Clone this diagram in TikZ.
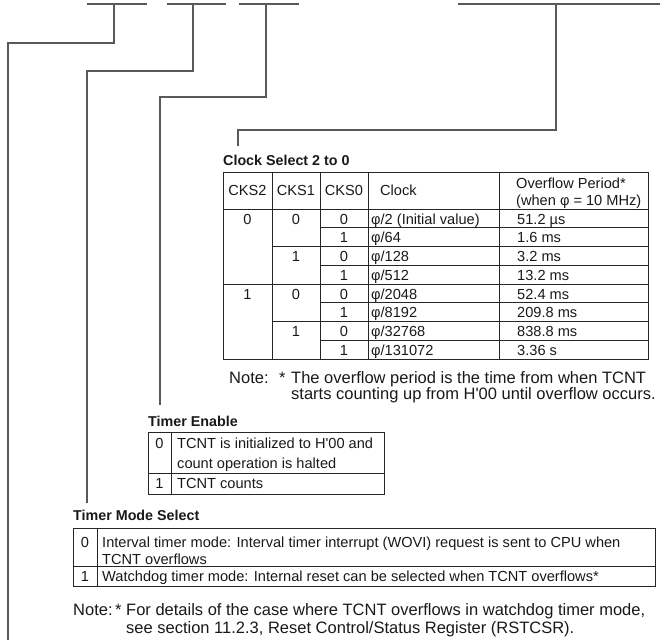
\documentclass[tikz,border=0pt]{standalone}
\usepackage{fontspec}
\setmainfont{Liberation Sans}
\usetikzlibrary{positioning}
\newcommand\tblfont{\fontsize{14.6}{17}\selectfont}
\newcommand\notefont{\fontsize{16.5}{18}\selectfont}
\newcommand\qt{\textquotesingle}
\tikzset{
  lead/.style={line width=1.1pt, draw=black!65},
  grid/.style={line width=0.8pt, draw=black!85},
  ttl/.style={font=\fontsize{14.3}{17}\selectfont\bfseries, anchor=base west, inner sep=0pt, text=black!90},
  txt/.style={font=\tblfont, anchor=base west, inner sep=0pt, text=black!90},
  num/.style={font=\tblfont, anchor=base, inner sep=0pt, text=black!90},
  nte/.style={font=\notefont, anchor=base west, inner sep=0pt, text=black!90},
}

\begin{document}
\begin{tikzpicture}[x=1pt,y=-1pt]
  \useasboundingbox (0,0) rectangle (671,640);
  % bit fields and their stems
  \coordinate (b1) at (114,4);
  \coordinate (b2) at (193,4);
  \coordinate (b3) at (266,4);
  \coordinate (b4) at (556,4);
  \draw[lead] (87,4) -- (147,4);
  \draw[lead] (167,4) -- (226,4);
  \draw[lead] (239,4) -- (299,4);
  \draw[lead] (458,4) -- (660,4);
  % leader ends
  \coordinate (k1) at (8,43);   \coordinate (wtend) at (8,640);
  \coordinate (k2) at (87,71);  \coordinate (tmend) at (87,503);
  \coordinate (k3) at (160,97); \coordinate (teend) at (160,405);
  \coordinate (k4) at (238,130);\coordinate (csend) at (238,146);
  \draw[lead] (b1) |- (k1) -- (wtend);
  \draw[lead] (b2) |- (k2) -- (tmend);
  \draw[lead] (b3) |- (k3) -- (teend);
  \draw[lead] (b4) |- (k4) -- (csend);

  % clock select table
  \node[ttl] (cs) at (223,165) {Clock Select 2 to 0};
  \draw[grid] (223,172) rectangle (648,359);
  \draw[grid] (223,209) -- (648,209);
  \draw[grid] (272,172) -- (272,359);
  \draw[grid] (320,172) -- (320,359);
  \draw[grid] (368,172) -- (368,359);
  \draw[grid] (499,172) -- (499,359);
  \draw[grid] (320,227.75) -- (648,227.75);
  \draw[grid] (272,246.5) -- (648,246.5);
  \draw[grid] (320,265.25) -- (648,265.25);
  \draw[grid] (223,284) -- (648,284);
  \draw[grid] (320,302.75) -- (648,302.75);
  \draw[grid] (272,321.5) -- (648,321.5);
  \draw[grid] (320,340.25) -- (648,340.25);
  \node[num] (h2) at (247.5,195.5) {CKS2};
  \node[num] (h1) at (296,195.5) {CKS1};
  \node[num] (h0) at (344,195.5) {CKS0};
  \node[txt] (hc) at (380,195.5) {Clock};
  \node[txt] (hp) at (516,188) {Overflow Period*};
  \node[txt] (hw) at (516,205) {(when φ = 10 MHz)};
  \node[num] at (247.5,224) {0};
  \node[num] at (247.5,299) {1};
  \node[num] at (296,224) {0};
  \node[num] at (296,261.5) {1};
  \node[num] at (296,299) {0};
  \node[num] at (296,336.5) {1};
  \node[num] at (344,224) {0};
  \node[num] at (344,242.75) {1};
  \node[num] at (344,261.5) {0};
  \node[num] at (344,280.25) {1};
  \node[num] at (344,299) {0};
  \node[num] at (344,317.75) {1};
  \node[num] at (344,336.5) {0};
  \node[num] at (344,355.25) {1};
  \node[txt] at (371,224) {φ/2 (Initial value)};
  \node[txt] at (371,242.75) {φ/64};
  \node[txt] at (371,261.5) {φ/128};
  \node[txt] at (371,280.25) {φ/512};
  \node[txt] at (371,299) {φ/2048};
  \node[txt] at (371,317.75) {φ/8192};
  \node[txt] at (371,336.5) {φ/32768};
  \node[txt] at (371,355.25) {φ/131072};
  \node[txt] at (517,224) {51.2 µs};
  \node[txt] at (517,242.75) {1.6 ms};
  \node[txt] at (517,261.5) {3.2 ms};
  \node[txt] at (517,280.25) {13.2 ms};
  \node[txt] at (517,299) {52.4 ms};
  \node[txt] at (517,317.75) {209.8 ms};
  \node[txt] at (517,336.5) {838.8 ms};
  \node[txt] at (517,355.25) {3.36 s};
  \node[nte] (csn) at (229,383) {Note:};
  \node[nte] at (279,383) {*};
  \node[nte] at (291,383) {The overflow period is the time from when TCNT};
  \node[nte] at (291,399) {starts counting up from H\qt00 until overflow occurs.};

  % timer enable table
  \node[ttl] (te) at (148,426) {Timer Enable};
  \draw[grid] (148,432) rectangle (384,494);
  \draw[grid] (171,432) -- (171,494);
  \draw[grid] (148,473) -- (384,473);
  \node[num] at (159.5,448) {0};
  \node[txt] at (177,448) {TCNT is initialized to H\qt00 and};
  \node[txt] at (177,468) {count operation is halted};
  \node[num] at (159.5,488) {1};
  \node[txt] at (177,488) {TCNT counts};

  % timer mode select table
  \node[ttl] (tms) at (73,520) {Timer Mode Select};
  \draw[grid] (73,528) rectangle (655,586);
  \draw[grid] (97,528) -- (97,586);
  \draw[grid] (73,566) -- (655,566);
  \node[num] at (85,547) {0};
  \node[txt] at (102,547) {Interval timer mode: Interval timer interrupt (WOVI) request is sent to CPU when};
  \node[txt] at (102,564) {TCNT overflows};
  \node[num] at (85,581) {1};
  \node[txt] at (102,581) {Watchdog timer mode: Internal reset can be selected when TCNT overflows*};
  \node[nte] (tmn) at (73,615) {Note:};
  \node[nte] at (115,615) {*};
  \node[nte] at (126,615) {For details of the case where TCNT overflows in watchdog timer mode,};
  \node[nte] at (126,633) {see section 11.2.3, Reset Control/Status Register (RSTCSR).};
\end{tikzpicture}
\end{document}
